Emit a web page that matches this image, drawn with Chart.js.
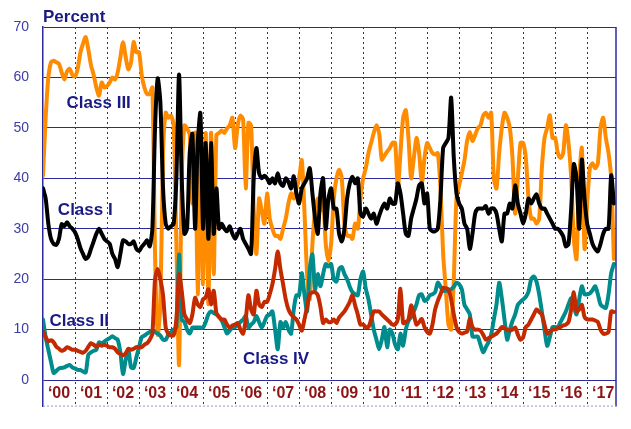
<!DOCTYPE html>
<html>
<head>
<meta charset="utf-8">
<script src="https://cdn.jsdelivr.net/npm/chart.js@4.4.0/dist/chart.umd.min.js"></script>
<style>
  html, body { margin: 0; padding: 0; background: #fff; }
  #wrap { width: 631px; height: 429px; }
</style>
</head>
<body>
<div id="wrap"><canvas id="chart" width="631" height="429"></canvas></div>
<script>
// Monthly observations, Jan 2000 .. Nov 2017
const startYear = 2000;
const yearTicks = [2001, 2002, 2003, 2004, 2005, 2006, 2007, 2008, 2009, 2010, 2011, 2012, 2013, 2014, 2015, 2016, 2017];
const yearLabels = ['‘00', '‘01', '‘02', '‘03', '‘04', '‘05', '‘06', '‘07', '‘08', '‘09', '‘10', '‘11', '‘12', '‘13', '‘14', '‘15', '‘16', '‘17'];
const yTicks = [0, 10, 20, 30, 40, 50, 60, 70];

const classIII = [
  40.5, 52, 60, 63, 63.3, 63, 62.7, 61, 59.6, 61.2, 61.7, 60.5,
  60.2, 61.7, 64.9, 66.7, 68, 65.5, 62.4, 60.5, 58, 56.4, 59, 58,
  58.3, 59, 60, 59.6, 61, 64, 67, 64, 61.6, 63, 67, 65,
  65, 60.5, 58, 56.7, 56.7, 58, 25, 9, 15, 45, 53, 52,
  52.4, 50.5, 27, 3, 40, 50.5, 49.9, 48.6, 35, 49, 17, 48,
  19, 49, 15, 49, 21, 48.6, 49, 49.5, 49, 49.9, 50.5, 52,
  46, 50.5, 52.4, 51.7, 38, 51, 50.5, 33.6, 25, 36, 33.6, 31,
  37, 32, 30, 28.6, 28.6, 28, 30, 32, 35, 37, 36, 38,
  40, 43.6, 33.6, 21, 16, 27, 33.6, 36, 33.6, 36, 27, 23.6,
  27, 36, 40, 41.7, 40, 31, 28.6, 28.6, 28, 31, 30, 36,
  40, 42, 45, 47, 49, 50.5, 49, 43.7, 44.5, 45.3, 46, 47,
  47, 38, 45, 52, 53.5, 48, 40, 44, 48, 45, 39, 44,
  47, 46, 45, 44.7, 45, 38, 25, 18, 11, 10, 20, 36,
  38.6, 41, 43.6, 47.4, 49.2, 47.4, 48.6, 49.9, 50.5, 52.4, 53, 52,
  53, 40, 38, 45, 50, 53, 52, 50, 44, 33, 40, 47,
  47, 44, 36, 32, 32, 31, 32, 42, 48, 50, 52.5, 48,
  48, 45, 44, 45, 50.5, 47, 40, 28, 24, 40, 46, 26,
  35, 42, 43, 42, 43, 50, 52, 48, 45, 40, 24
];

const classI = [
  38, 36, 31, 28, 27, 26.8, 28, 30.9, 30.5, 31.3, 30.5, 30,
  29.3, 28, 26.2, 25, 24, 24.5, 26, 27.5, 29, 30, 29, 28,
  27.5, 27, 25, 24, 22.4, 25, 27.7, 27.5, 27, 27, 27.5, 26,
  25.6, 26.4, 27, 27.7, 26.5, 30, 50, 59.8, 55, 38, 31, 30,
  30.5, 31, 40, 60.6, 40, 29, 30, 45, 48.8, 30, 47, 52.9,
  30, 47, 28, 47, 29, 38, 30, 31, 30, 29.5, 30.5, 29,
  28, 29, 30, 28, 27, 26, 25, 40, 46, 41, 40, 40.5,
  40, 39, 40, 39, 41, 39, 38.5, 40, 39.3, 38, 40.4, 37,
  35, 38, 39, 40, 42, 37, 32, 29, 37, 40, 30, 36,
  38, 34, 34, 29, 27.5, 30, 36, 39, 40.3, 39, 40, 33,
  32.4, 34, 33, 32, 33, 31, 32.5, 34, 35, 34, 36, 35,
  35, 39, 37, 33, 29, 28.6, 32, 34, 36, 38.6, 39, 35,
  37, 30, 29.5, 29.5, 30, 36, 46, 47, 48, 56, 44, 37,
  35, 34, 31, 30, 26, 29, 33, 34, 34, 34, 34.5, 33,
  34, 34, 33, 30, 27.5, 33, 33, 35, 34, 38.6, 35, 33,
  31, 33, 36, 35, 36, 36.8, 35, 34, 34, 33, 32, 31,
  30, 30, 29.4, 28.5, 26.5, 27, 34, 42.8, 40, 30, 43.7, 36,
  31, 29, 27, 26, 25.5, 27, 29, 30, 30, 40.6, 35
];

const classII = [
  9.6, 8.5, 7.7, 7.9, 7.5, 6.6, 6.2, 5.8, 6, 6.5, 6.3, 6,
  6, 5.8, 5.6, 5.4, 5.8, 6.6, 7.3, 7, 6.6, 7, 6.8, 7,
  6.8, 6.5, 6.5, 6.2, 5.5, 5.2, 4.9, 5.3, 6.2, 6, 6.2, 6.5,
  6.6, 6.5, 7, 7.3, 8, 9.2, 20, 22, 20, 16.8, 10.4, 9.1,
  8.8, 8.9, 12, 21, 17.7, 13, 12, 11.3, 13, 16.3, 15, 14.5,
  16, 16.4, 18, 15, 17.7, 13.3, 12.5, 12, 12, 11, 10.4, 10.8,
  11, 11.3, 10, 9.2, 12, 16.8, 14, 13, 17.7, 15, 14.5, 15.5,
  15.5, 17, 19, 22, 25.5, 22, 19, 16, 14, 13, 12.5, 12,
  11, 9.8, 12, 14.5, 17, 17.4, 17.4, 16.8, 14.5, 11.3, 12, 11.5,
  11.5, 12, 11.3, 12.4, 13, 13.6, 14.5, 15.5, 16.8, 14.8, 13, 11,
  11, 10.5, 10.5, 12, 13.6, 13.6, 13.6, 13, 12.5, 12, 11.5, 11,
  11, 12, 18.1, 11.3, 11.5, 12, 14.8, 13, 11, 11.5, 12.1, 10.5,
  9.5, 9.2, 11, 14, 15.7, 17, 18.3, 18.2, 18, 16, 13, 10.5,
  9.5, 9.2, 9.4, 9.6, 12.2, 10.5, 10, 10, 9.8, 9, 8, 8.3,
  8.6, 8.9, 9.2, 9.8, 10.5, 10.3, 10, 9.8, 10, 10.4, 9, 8,
  8.5, 10.5, 11, 12, 13, 14, 13.5, 13, 11, 9.2, 9.5, 10,
  10, 10.3, 10.5, 10.8, 11, 11.5, 14, 17.4, 13.6, 14, 14.9, 12.5,
  12, 12, 12, 11.8, 11.5, 10, 9.2, 9.2, 9.5, 13.6, 13.5
];

const classIV = [
  12, 8.5, 6, 3.6, 1.4, 1.8, 2.3, 2.4, 2.5, 2.8, 3, 2.5,
  2.3, 2, 2, 1.7, 1.5, 5, 5.5, 5.8, 6, 7.5, 7.3, 7.6,
  8, 8.3, 8.7, 8.3, 8, 5.5, 1.2, 4, 6, 2.5, 2.4, 4.5,
  6.5, 8.5, 8.8, 9.2, 9.5, 9.8, 9.5, 9.2, 8.8, 8, 8, 9,
  9.5, 10, 10.4, 24.9, 12, 11.5, 10, 9.2, 10.4, 10.4, 10.4, 10.4,
  10.4, 11.5, 13, 13.6, 13.3, 13, 12.5, 11.8, 10.5, 9.2, 9.8, 10.4,
  10.5, 11, 11.5, 12, 12.7, 10.4, 11, 11.5, 12.7, 11.5, 10.4, 11.5,
  12.7, 13, 13.6, 10, 6.1, 11.5, 10.4, 11.5, 10, 9.2, 14, 16.8,
  16.8, 21.2, 17, 13.6, 22, 24.9, 18, 21, 18.6, 21, 23, 22.5,
  23, 20, 19.5, 22, 22.4, 21, 20, 18.5, 17.4, 17, 16.8, 20,
  21.5, 18.1, 16, 13, 10, 8, 6.1, 8, 10.5, 6.5, 10, 9.2,
  7, 6.1, 9.2, 6.8, 10, 11.7, 12.5, 13.6, 15, 16.8, 17, 15.7,
  16, 16.8, 17, 17.4, 19.3, 18.5, 17.7, 17.7, 17.7, 18, 18.5, 19.3,
  19, 18, 14.9, 14, 13, 8.6, 8.6, 8.6, 7, 5.5, 6.5, 7.5,
  9, 12, 15, 19.3, 16.2, 12, 8, 10, 11.7, 13, 14.9, 15.5,
  16, 16.5, 17.5, 20, 20.5, 19.5, 17, 13.6, 10, 6.8, 8.5, 10.5,
  10.5, 10.5, 11.5, 12.5, 13.6, 15, 16.2, 14.5, 13, 16, 18.6, 17,
  17, 17.2, 17.8, 18.6, 17, 15, 14.5, 14.3, 17, 21.2, 23
];

// in-plot series captions: [text, year, percent]
const captions = [
  ['Class III', 2001.74, 54.8],
  ['Class I', 2001.32, 33.6],
  ['Class II', 2001.13, 11.6],
  ['Class IV', 2007.28, 4.05]
];

const NAVY = '#1a1a84';
const GRID = '#2a2a9c';

const months = classI.map((_, i) => startYear + i / 12);
const pts = arr => arr.map((v, i) => ({ x: months[i], y: v }));

const frame = {
  id: 'frame',
  beforeDatasetsDraw(chart) {
    // dotted year separators, full height of the frame
    const { ctx, chartArea: a, scales } = chart;
    ctx.save();
    ctx.strokeStyle = GRID; ctx.lineWidth = 1;
    ctx.setLineDash([2, 3]);
    yearTicks.forEach(v => {
      const x = Math.round(scales.x.getPixelForValue(v)) + 0.5;
      ctx.beginPath(); ctx.moveTo(x, a.top); ctx.lineTo(x, a.bottom); ctx.stroke();
    });
    ctx.restore();
  },
  afterDraw(chart) {
    const { ctx, chartArea: a, scales } = chart;
    ctx.save();
    // right border
    ctx.strokeStyle = GRID; ctx.lineWidth = 1.5;
    ctx.beginPath(); ctx.moveTo(a.right, a.top); ctx.lineTo(a.right, a.bottom); ctx.stroke();
    // bottom edge
    ctx.strokeStyle = '#9a9acc'; ctx.lineWidth = 1;
    ctx.setLineDash([2, 2]);
    ctx.beginPath(); ctx.moveTo(a.left, a.bottom - 0.5); ctx.lineTo(a.right, a.bottom - 0.5); ctx.stroke();
    ctx.setLineDash([]);
    // year labels inside the frame, under the zero line
    ctx.fillStyle = '#8c1414';
    ctx.font = 'bold 16px "Liberation Sans", Arial, sans-serif';
    ctx.textAlign = 'center'; ctx.textBaseline = 'middle';
    const ly = scales.y.getPixelForValue(-2.6);
    yearLabels.forEach((t, i) => ctx.fillText(t, scales.x.getPixelForValue(startYear + i + 0.5), ly));
    // captions
    ctx.fillStyle = NAVY;
    ctx.font = 'bold 17px "Liberation Sans", Arial, sans-serif';
    captions.forEach(([t, x, y]) => ctx.fillText(t, scales.x.getPixelForValue(x), scales.y.getPixelForValue(y)));
    // unit title
    ctx.textAlign = 'left'; ctx.textBaseline = 'alphabetic';
    ctx.fillText('Percent', a.left, 21.5);
    ctx.restore();
  }
};

const line = (label, data, color, order) => ({
  label, data: pts(data), borderColor: color, backgroundColor: color,
  borderWidth: 4, pointRadius: 0, tension: 0.25, order,
  borderJoinStyle: 'round', borderCapStyle: 'round'
});

new Chart(document.getElementById('chart'), {
  type: 'line',
  data: {
    datasets: [
      line('Class II', classII, '#c42a00', 0),
      line('Class IV', classIV, '#008c8c', 1),
      line('Class I', classI, '#000000', 2),
      line('Class III', classIII, '#ff8c00', 3)
    ]
  },
  options: {
    responsive: false,
    animation: false,
    devicePixelRatio: 1,
    layout: { padding: { left: 0, right: 15, top: 27, bottom: 2 } },
    plugins: { legend: { display: false }, tooltip: { enabled: false } },
    scales: {
      x: {
        type: 'linear', min: 2000, max: 2017.9,
        ticks: { display: false },
        grid: { display: false, drawTicks: false },
        border: { display: false }
      },
      y: {
        min: -5.27, max: 70,
        afterBuildTicks: s => { s.ticks = yTicks.map(v => ({ value: v })); },
        afterFit: s => { s.width = 43; },
        ticks: { color: '#3c3ca6', font: { size: 14, family: '"Liberation Sans", Arial, sans-serif' }, padding: 14 },
        grid: { color: GRID, lineWidth: 1, drawTicks: false },
        border: { display: true, color: GRID, width: 1.5 }
      }
    }
  },
  plugins: [frame]
});
</script>
</body>
</html>
